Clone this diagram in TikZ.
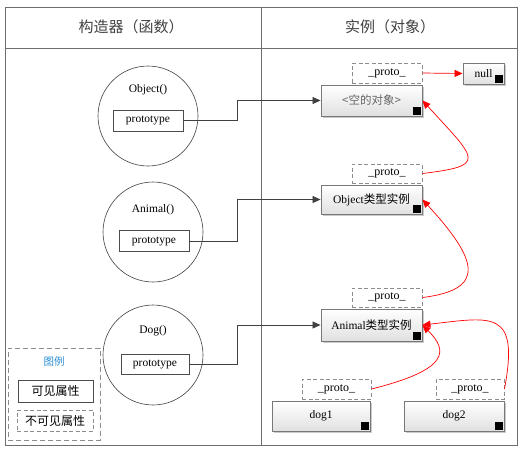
\documentclass[tikz,border=0pt]{standalone}
\usepackage{fontspec}
\setmainfont{Liberation Serif}
\newfontfamily\cjk{Noto Sans CJK SC}
\usetikzlibrary{arrows.meta,shadows}
\definecolor{frameg}{RGB}{110,110,110}
\definecolor{boxg}{RGB}{120,120,120}
\definecolor{dashg}{RGB}{140,140,140}
\definecolor{legblue}{RGB}{40,140,210}
\definecolor{protored}{RGB}{255,0,0}
\tikzset{
  objbox/.style={draw=boxg, line width=0.9pt, top color=white, bottom color=black!12,
    drop shadow={shadow xshift=1.5pt, shadow yshift=-1.5pt, fill=black!35, opacity=0.6},
    inner sep=0pt, font=\fontsize{11.5}{13}\selectfont},
  protobox/.style={draw=dashg, dashed, dash pattern=on 4pt off 2.5pt, line width=1pt, fill=white,
    inner sep=0pt, minimum width=70pt, minimum height=20pt, font=\fontsize{12}{13}\selectfont},
  ctor/.style={circle, draw=black!75, line width=0.6pt, minimum size=100pt, inner sep=0pt},
  ctorlabel/.style={font=\fontsize{11.5}{13}\selectfont, inner sep=0pt},
  propbox/.style={draw=black!70, line width=0.8pt, fill=white, inner sep=0pt,
    minimum width=70pt, minimum height=21pt, font=\fontsize{11.5}{13}\selectfont},
  conn/.style={draw=black!75, line width=0.8pt, -{Triangle[length=8pt,width=7pt]}},
  redarrow/.style={draw=protored, line width=0.7pt, -{Triangle[length=8pt,width=7pt]}},
  corner/.style={fill=black},
  headtext/.style={font=\cjk\fontsize{15}{17}\selectfont, text=black!75, inner sep=0pt}
}
\newcommand{\markcorner}[1]{\fill[corner] ([xshift=-1.2pt,yshift=1.2pt]#1.south east) rectangle ++(-8pt,8pt);}
\begin{document}
\begin{tikzpicture}[x=1pt,y=-1pt]
\useasboundingbox (0,0) rectangle (528,451);
% frame
\node[draw=frameg, line width=1pt, minimum width=512pt, minimum height=438pt, inner sep=0pt] (frame) at (261,226) {};
\coordinate (hl) at (5,48);
\coordinate (hr) at (517,48);
\coordinate (dt) at (261,7);
\coordinate (db) at (261,445);
\draw[frameg, line width=0.8pt] (hl) -- (hr);
\draw[frameg, line width=0.8pt] (dt) -- (db);
\node[headtext] (h1) at (131,27) {构造器（函数）};
\node[headtext] (h2) at (390,27) {实例（对象）};

% constructors
\node[ctor] (c0) at (148,116) {};
\node[ctor] (c1) at (153,232) {};
\node[ctor] (c2) at (153,355) {};
\node[ctorlabel] (l0) at (148,90) {Object()};
\node[ctorlabel] (l1) at (153,210) {Animal()};
\node[ctorlabel] (l2) at (153,331) {Dog()};
\node[propbox] (pr0) at (148,120.5) {prototype};
\node[propbox] (pr1) at (154,241) {prototype};
\node[propbox, minimum width=68pt, minimum height=20pt] (pr2) at (155,364) {prototype};

% instances
\node[objbox, minimum width=101pt, minimum height=31pt, text=black!60] (o0) at (371.5,100.5) {\cjk<空的对象>};
\node[objbox, minimum width=101pt, minimum height=29pt] (o1) at (371.5,199.5) {Object{\cjk 类型实例}};
\node[objbox, minimum width=101pt, minimum height=32pt] (o2) at (371.5,325) {Animal{\cjk 类型实例}};
\node[objbox, minimum width=98pt, minimum height=30pt] (d1) at (321,416) {dog1};
\node[objbox, minimum width=100pt, minimum height=30pt] (d2) at (454,416) {dog2};
\node[objbox, minimum width=41pt, minimum height=21pt] (nl) at (483.5,73.5) {null};
\markcorner{o0}
\markcorner{o1}
\markcorner{o2}
\markcorner{d1}
\markcorner{d2}
\markcorner{nl}

\node[protobox] (p0) at (387,73) {\_proto\_};
\node[protobox, minimum height=19pt] (p1) at (387,173.5) {\_proto\_};
\node[protobox, minimum height=19pt] (p2) at (387,297.5) {\_proto\_};
\node[protobox, minimum width=69pt] (pd1) at (336.5,389) {\_proto\_};
\node[protobox, minimum width=68pt] (pd2) at (470,389) {\_proto\_};

% prototype links
\coordinate (k) at (237,0);
\draw[conn] (pr0.east) -- (pr0.east -| k) |- (o0.west);
\draw[conn] (pr1.east) -- (pr1.east -| k) |- (o1.west);
\draw[conn] (pr2.east) -- (pr2.east -| k) |- (o2.west);

% proto chain
\draw[redarrow] (p0.east) -- (nl.west);
\draw[redarrow] (p1.east) .. controls +(65,-8) and +(55,60) .. (o0.east);
\draw[redarrow] (p2.east) .. controls +(65,-8) and +(55,60) .. (o1.east);
\draw[redarrow] (pd1.east) .. controls +(80,-20) and +(25,25) .. (o2.east);
\draw[redarrow] (pd2.east) .. controls +(15,-80) and +(70,-8) .. (o2.east);

% legend
\node[draw=dashg, dashed, dash pattern=on 5pt off 3pt, line width=1pt, minimum width=92pt, minimum height=92pt, inner sep=0pt] (lg) at (54,394) {};
\node[font=\cjk\fontsize{10.5}{12}\selectfont, text=legblue, inner sep=0pt] (lgt) at (54,362) {图例};
\node[draw=black!70, line width=0.8pt, minimum width=75pt, minimum height=22pt, inner sep=0pt, font=\cjk\fontsize{12}{13}\selectfont] (lv) at (55.5,391) {可见属性};
\node[protobox, minimum width=76pt, minimum height=21pt, font=\cjk\fontsize{12}{13}\selectfont] (li) at (55,420.5) {不可见属性};
\end{tikzpicture}
\end{document}
